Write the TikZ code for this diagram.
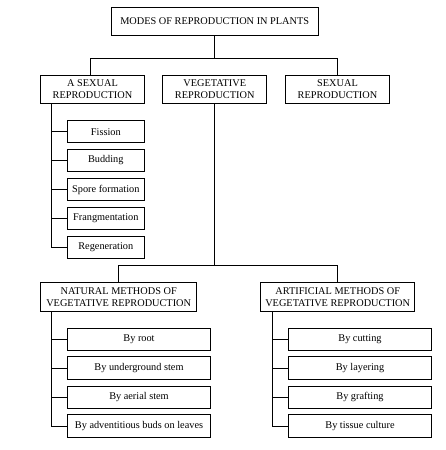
\documentclass[tikz,border=0pt]{standalone}
\usepackage{fontspec}
\setmainfont{Liberation Serif}
\begin{document}
\begin{tikzpicture}[x=1pt,y=-1pt,
  box/.style={draw, line width=0.9pt, inner sep=0pt, align=center, font=\fontsize{10.3}{11.6}\selectfont},
  conn/.style={line width=0.9pt}]
\useasboundingbox (0,0) rectangle (446,450);
% top level
\node[box, minimum width=206.6pt, minimum height=27.7pt] (top) at (214.7,21.2) {MODES OF REPRODUCTION IN PLANTS};
\node[box, minimum width=103.6pt, minimum height=28pt] (asex) at (92.5,89.3) {A SEXUAL\\REPRODUCTION};
\node[box, minimum width=104pt, minimum height=28pt] (veg) at (214.7,89.3) {VEGETATIVE\\REPRODUCTION};
\node[box, minimum width=103.6pt, minimum height=28pt] (sex) at (337.5,89.3) {SEXUAL\\REPRODUCTION};
% asexual children
\node[box, minimum width=77pt, minimum height=22pt] (fis) at (105.8,131.7) {Fission};
\node[box, minimum width=77pt, minimum height=22pt] (bud) at (105.8,160.5) {Budding};
\node[box, minimum width=77pt, minimum height=22pt] (spo) at (105.8,189.5) {Spore formation};
\node[box, minimum width=77pt, minimum height=22pt] (fra) at (105.8,218.3) {Frangmentation};
\node[box, minimum width=77pt, minimum height=22pt] (reg) at (105.8,247.3) {Regeneration};
% vegetative methods
\node[box, minimum width=156pt, minimum height=29pt] (nat) at (118.7,297.2) {NATURAL METHODS OF\\VEGETATIVE REPRODUCTION};
\node[box, minimum width=154pt, minimum height=29pt] (art) at (337.7,297.2) {ARTIFICIAL METHODS OF\\VEGETATIVE REPRODUCTION};
% natural children
\node[box, minimum width=143.4pt, minimum height=22.5pt] (n1) at (139,339.3) {By root};
\node[box, minimum width=143.4pt, minimum height=22.5pt] (n2) at (139,368) {By underground stem};
\node[box, minimum width=143.4pt, minimum height=22.5pt] (n3) at (139,397.2) {By aerial stem};
\node[box, minimum width=143.4pt, minimum height=22.5pt] (n4) at (139,426) {By adventitious buds on leaves};
% artificial children
\node[box, minimum width=143.4pt, minimum height=22.5pt] (a1) at (360,339.3) {By cutting};
\node[box, minimum width=143.4pt, minimum height=22.5pt] (a2) at (360,368) {By layering};
\node[box, minimum width=143.4pt, minimum height=22.5pt] (a3) at (360,397.2) {By grafting};
\node[box, minimum width=143.4pt, minimum height=22.5pt] (a4) at (360,426) {By tissue culture};
% connectors top
\coordinate (j1) at (214.7,58.7);
\draw[conn] (top.south) -- (j1);
\draw[conn] ([xshift=-1.8pt]asex.north) -- ([xshift=-1.8pt]asex.north |- j1) -- (sex.north |- j1) -- (sex.north);
% asexual trunk
\coordinate (ta) at ([xshift=11pt]asex.south west);
\draw[conn] (ta) -- (ta |- reg.west) -- (reg.west);
\foreach \c in {fis,bud,spo,fra} \draw[conn] (\c.west) -- (\c.west -| ta);
% vegetative split
\coordinate (j2) at (214.7,265.3);
\draw[conn] (veg.south) -- (j2);
\draw[conn] (nat.north) -- (nat.north |- j2) -- (art.north |- j2) -- (art.north);
% natural trunk
\coordinate (tn) at ([xshift=11pt]nat.south west);
\draw[conn] (tn) -- (tn |- n4.west) -- (n4.west);
\foreach \c in {n1,n2,n3} \draw[conn] (\c.west) -- (\c.west -| tn);
% artificial trunk
\coordinate (tr) at ([xshift=12pt]art.south west);
\draw[conn] (tr) -- (tr |- a4.west) -- (a4.west);
\foreach \c in {a1,a2,a3} \draw[conn] (\c.west) -- (\c.west -| tr);
\end{tikzpicture}
\end{document}
